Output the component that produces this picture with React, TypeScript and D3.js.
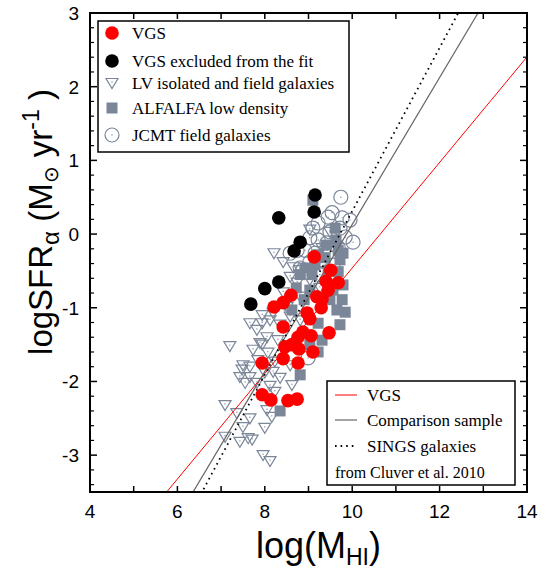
import * as d3 from 'd3'

// Axis ranges and tick labels
const X_DOMAIN: [number, number] = [4, 14]
const Y_DOMAIN: [number, number] = [-3.5, 3]
const X_LABELS = [4, 6, 8, 10, 12, 14]
const Y_LABELS = [-3, -2, -1, 0, 1, 2, 3]

// Linear fits, [slope, intercept]
const FIT_VGS = [0.716, -7.62]
const FIT_COMPARISON = [0.997, -9.84]
const FIT_SINGS = [1.109, -10.78]

// VGS galaxies used in the fit  [log MHI, log SFR]
const VGS = [
  [9.13, -0.31], [9.51, -0.49], [9.68, -0.66], [9.40, -0.64], [9.45, -0.76],
  [9.19, -0.85], [8.60, -0.83], [8.42, -0.93], [8.21, -0.99], [9.29, -1.00],
  [8.97, -1.07], [9.03, -1.15], [8.42, -1.26], [9.47, -1.34], [8.87, -1.33],
  [9.06, -1.38], [8.76, -1.40], [8.46, -1.53], [8.78, -1.56], [9.10, -1.60],
  [8.42, -1.69], [7.94, -1.75], [8.76, -1.75], [7.94, -2.18], [8.14, -2.25],
  [8.53, -2.26], [8.74, -2.24], [9.31, -0.88], [8.62, -1.50],
]

// VGS excluded from the fit
const VGS_EXCLUDED = [
  [9.15, 0.53], [9.13, 0.30], [8.32, 0.22], [8.81, -0.11],
  [8.67, -0.23], [8.32, -0.65], [8.00, -0.74], [7.68, -0.95],
]

// LV isolated and field galaxies
const LV = [
  [8.21, -0.26], [9.03, 0.06], [9.49, 0.03], [9.31, -0.19], [8.65, -0.45],
  [8.81, -0.49], [8.58, -0.58], [8.74, -0.66], [8.42, -0.79], [8.81, -0.85],
  [8.51, -0.99], [8.19, -1.07], [8.58, -1.12], [7.94, -1.10], [8.12, -1.17],
  [7.66, -1.21], [7.94, -1.21], [8.35, -1.23], [7.82, -1.30], [8.05, -1.40],
  [7.89, -1.48], [7.20, -1.52], [7.94, -1.50], [8.07, -1.61], [7.73, -1.57],
  [7.66, -1.80], [7.48, -1.84], [8.00, -1.88], [8.19, -1.87], [7.43, -1.94],
  [7.66, -1.94], [8.35, -1.95], [7.55, -2.02], [7.82, -2.02], [8.12, -2.06],
  [8.62, -2.05], [8.23, -2.14], [7.09, -2.32], [8.05, -2.39], [7.36, -2.43],
  [7.66, -2.50], [8.16, -2.48], [7.50, -2.62], [8.00, -2.63], [7.09, -2.75],
  [7.62, -2.77], [7.43, -2.82], [7.71, -2.79], [7.96, -3.00], [8.12, -3.08],
  [8.46, -0.96], [8.30, -1.44], [8.81, -1.17], [9.03, -0.62], [8.42, -0.38],
  [9.26, -0.73], [7.50, -1.78], [7.84, -1.71], [8.23, -1.73], [8.58, -1.78],
]

// ALFALFA low density
const ALFALFA = [
  [9.10, 0.46], [9.63, -0.08], [9.68, -0.22], [9.72, -0.35], [9.40, -0.15],
  [9.22, -0.28], [8.92, -0.46], [9.08, -0.55], [8.81, -0.55], [9.45, -0.49],
  [9.68, -0.51], [9.79, -0.69], [9.77, -0.89], [9.65, -1.03], [9.84, -1.06],
  [9.22, -1.21], [9.31, -1.44], [9.22, -1.60], [8.81, -1.91], [8.35, -2.40],
  [9.03, -0.76], [8.90, -0.89], [8.72, -0.73], [9.72, -1.23], [9.38, -0.32],
  [9.49, -0.89], [9.03, -1.50], [9.79, -0.26], [9.56, -0.76], [8.62, -1.03],
  [9.15, -0.42], [9.61, 0.08],
]

// JCMT field galaxies
const JCMT = [
  [9.74, 0.50], [9.54, 0.29], [9.95, 0.19], [9.45, 0.23], [9.77, 0.22],
  [9.22, 0.15], [9.72, 0.08], [9.10, 0.08], [9.49, 0.03], [9.84, -0.04],
  [10.02, -0.11], [9.42, -0.12], [9.22, -0.08], [9.03, -0.05], [9.68, -0.18],
  [8.92, -0.22], [9.15, -0.26], [8.58, -0.26], [8.74, -0.22], [9.31, -0.35],
  [9.03, -0.38], [8.81, -0.46], [9.56, -0.42], [8.99, -1.68], [9.26, -0.55],
]

const GRAY = '#7b8799'
const LEFT = 90
const RIGHT = 527
const TOP = 13
const BOTTOM = 492

const triPath = (cx: number, cy: number) =>
  `M${cx - 6},${cy - 4.5}L${cx + 6},${cy - 4.5}L${cx},${cy + 5.5}Z`

const App = () => {
  const x = d3.scaleLinear().domain(X_DOMAIN).range([LEFT, RIGHT])
  const y = d3.scaleLinear().domain(Y_DOMAIN).range([BOTTOM, TOP])

  const xTicks = d3.range(4, 14.01, 1)
  const yMinor = d3.range(-3.4, 3.01, 0.2).filter(v => Math.abs(v - Math.round(v)) > 0.01)

  const fitLine = (fit: number[]) => {
    const line = d3.line<number>().x(v => x(v)).y(v => y(fit[0] * v + fit[1]))
    return line(X_DOMAIN) || ''
  }

  const serif = '"Liberation Serif", "Times New Roman", serif'
  const sans = '"Liberation Sans", Arial, Helvetica, sans-serif'

  const legend1 = [
    { label: 'VGS', y: 33 },
    { label: 'VGS excluded from the fit', y: 61 },
    { label: 'LV isolated and field galaxies', y: 83 },
    { label: 'ALFALFA low density', y: 108 },
    { label: 'JCMT field galaxies', y: 135 },
  ]

  return (
    <svg width={555} height={574} style={{ position: 'absolute', left: 0, top: 0, background: '#fff' }}>
      <defs>
        <clipPath id="plot">
          <rect x={LEFT} y={TOP} width={RIGHT - LEFT} height={BOTTOM - TOP} />
        </clipPath>
      </defs>

      <g clipPath="url(#plot)">
        {/* LV triangles */}
        {LV.map((d, i) => (
          <g key={'lv' + i}>
            <path d={triPath(x(d[0]), y(d[1]))} fill="none" stroke={GRAY} strokeWidth={1.2} />
            <circle cx={x(d[0])} cy={y(d[1]) - 1} r={0.7} fill={GRAY} />
          </g>
        ))}
        {/* ALFALFA squares */}
        {ALFALFA.map((d, i) => (
          <rect key={'al' + i} x={x(d[0]) - 5.5} y={y(d[1]) - 5.5} width={11} height={11} fill={GRAY} />
        ))}
        {/* JCMT open circles */}
        {JCMT.map((d, i) => (
          <g key={'jc' + i}>
            <circle cx={x(d[0])} cy={y(d[1])} r={7} fill="none" stroke={GRAY} strokeWidth={1.2} />
            <circle cx={x(d[0])} cy={y(d[1])} r={0.7} fill={GRAY} />
          </g>
        ))}
        {/* fit lines */}
        <path d={fitLine(FIT_VGS)} stroke="#ff0000" strokeWidth={1} fill="none" />
        <path d={fitLine(FIT_COMPARISON)} stroke="#666" strokeWidth={1.2} fill="none" />
        <path d={fitLine(FIT_SINGS)} stroke="#000" strokeWidth={1.8} strokeDasharray="1.6 4" fill="none" />
        {/* VGS */}
        {VGS.map((d, i) => (
          <circle key={'v' + i} cx={x(d[0])} cy={y(d[1])} r={6.8} fill="#ff0000" />
        ))}
        {VGS_EXCLUDED.map((d, i) => (
          <circle key={'ve' + i} cx={x(d[0])} cy={y(d[1])} r={6.8} fill="#000" />
        ))}
      </g>

      {/* frame */}
      <rect x={LEFT} y={TOP} width={RIGHT - LEFT} height={BOTTOM - TOP} fill="none" stroke="#000" strokeWidth={2} />

      {/* x ticks */}
      {xTicks.map(t => (
        <g key={'xt' + t}>
          <line x1={x(t)} x2={x(t)} y1={BOTTOM} y2={BOTTOM - 6} stroke="#000" strokeWidth={1.5} />
          <line x1={x(t)} x2={x(t)} y1={TOP} y2={TOP + 6} stroke="#000" strokeWidth={1.5} />
        </g>
      ))}
      {X_LABELS.map(t => (
        <text key={'xl' + t} x={x(t)} y={518} textAnchor="middle" fontFamily={sans} fontSize={19}>
          {t}
        </text>
      ))}

      {/* y ticks */}
      {Y_LABELS.map(t => (
        <g key={'yt' + t}>
          <line x1={LEFT} x2={LEFT + 7} y1={y(t)} y2={y(t)} stroke="#000" strokeWidth={1.5} />
          <line x1={RIGHT} x2={RIGHT - 7} y1={y(t)} y2={y(t)} stroke="#000" strokeWidth={1.5} />
          <text x={79} y={y(t) + 7} textAnchor="end" fontFamily={sans} fontSize={19}>
            {String(t)}
          </text>
        </g>
      ))}
      {yMinor.map((t, i) => (
        <g key={'ym' + i}>
          <line x1={LEFT} x2={LEFT + 4} y1={y(t)} y2={y(t)} stroke="#000" strokeWidth={1.2} />
          <line x1={RIGHT} x2={RIGHT - 4} y1={y(t)} y2={y(t)} stroke="#000" strokeWidth={1.2} />
        </g>
      ))}

      {/* axis titles */}
      <text x={381} y={558} textAnchor="end" fontFamily={sans} fontSize={36}>
        log(M<tspan fontSize={23} dy={7}>HI</tspan><tspan dy={-7}>)</tspan>
      </text>
      <text
        transform="translate(52,222) rotate(-90)"
        textAnchor="middle"
        fontFamily={sans}
        fontSize={33}
      >
        logSFR<tspan fontSize={24} dy={7}>α</tspan>
        <tspan dy={-7}> (M</tspan>
        <tspan fontSize={20} dy={6}>⊙</tspan>
        <tspan dy={-6}> yr</tspan>
        <tspan fontSize={23} dy={-13}>-1</tspan>
        <tspan dy={13}> )</tspan>
      </text>

      {/* legend: samples */}
      <rect x={98} y={21} width={251} height={131} fill="#fff" stroke="#000" strokeWidth={1.5} />
      <circle cx={112} cy={legend1[0].y} r={6.8} fill="#ff0000" />
      <circle cx={112} cy={legend1[1].y} r={6.8} fill="#000" />
      <path d={triPath(112, legend1[2].y)} fill="none" stroke={GRAY} strokeWidth={1.2} />
      <circle cx={112} cy={legend1[2].y - 1} r={0.7} fill={GRAY} />
      <rect x={106.5} y={legend1[3].y - 5.5} width={11} height={11} fill={GRAY} />
      <circle cx={112} cy={legend1[4].y} r={7} fill="none" stroke={GRAY} strokeWidth={1.2} />
      <circle cx={112} cy={legend1[4].y} r={0.7} fill={GRAY} />
      {legend1.map(l => (
        <text key={l.label} x={132} y={l.y + 6} fontFamily={serif} fontSize={17}>
          {l.label}
        </text>
      ))}

      {/* legend: fits */}
      <rect x={327} y={381} width={188} height={104} fill="#fff" stroke="#000" strokeWidth={1.5} />
      <line x1={335} x2={357} y1={395} y2={395} stroke="#ff0000" strokeWidth={1} />
      <line x1={335} x2={357} y1={420} y2={420} stroke="#666" strokeWidth={1.2} />
      <line x1={335} x2={357} y1={446} y2={446} stroke="#000" strokeWidth={1.8} strokeDasharray="1.6 4" />
      <text x={367} y={401} fontFamily={serif} fontSize={17}>VGS</text>
      <text x={367} y={426} fontFamily={serif} fontSize={17}>Comparison sample</text>
      <text x={367} y={452} fontFamily={serif} fontSize={17}>SINGS galaxies</text>
      <text x={335} y={478} fontFamily={serif} fontSize={16}>from Cluver et al. 2010</text>
    </svg>
  )
}

export default App
